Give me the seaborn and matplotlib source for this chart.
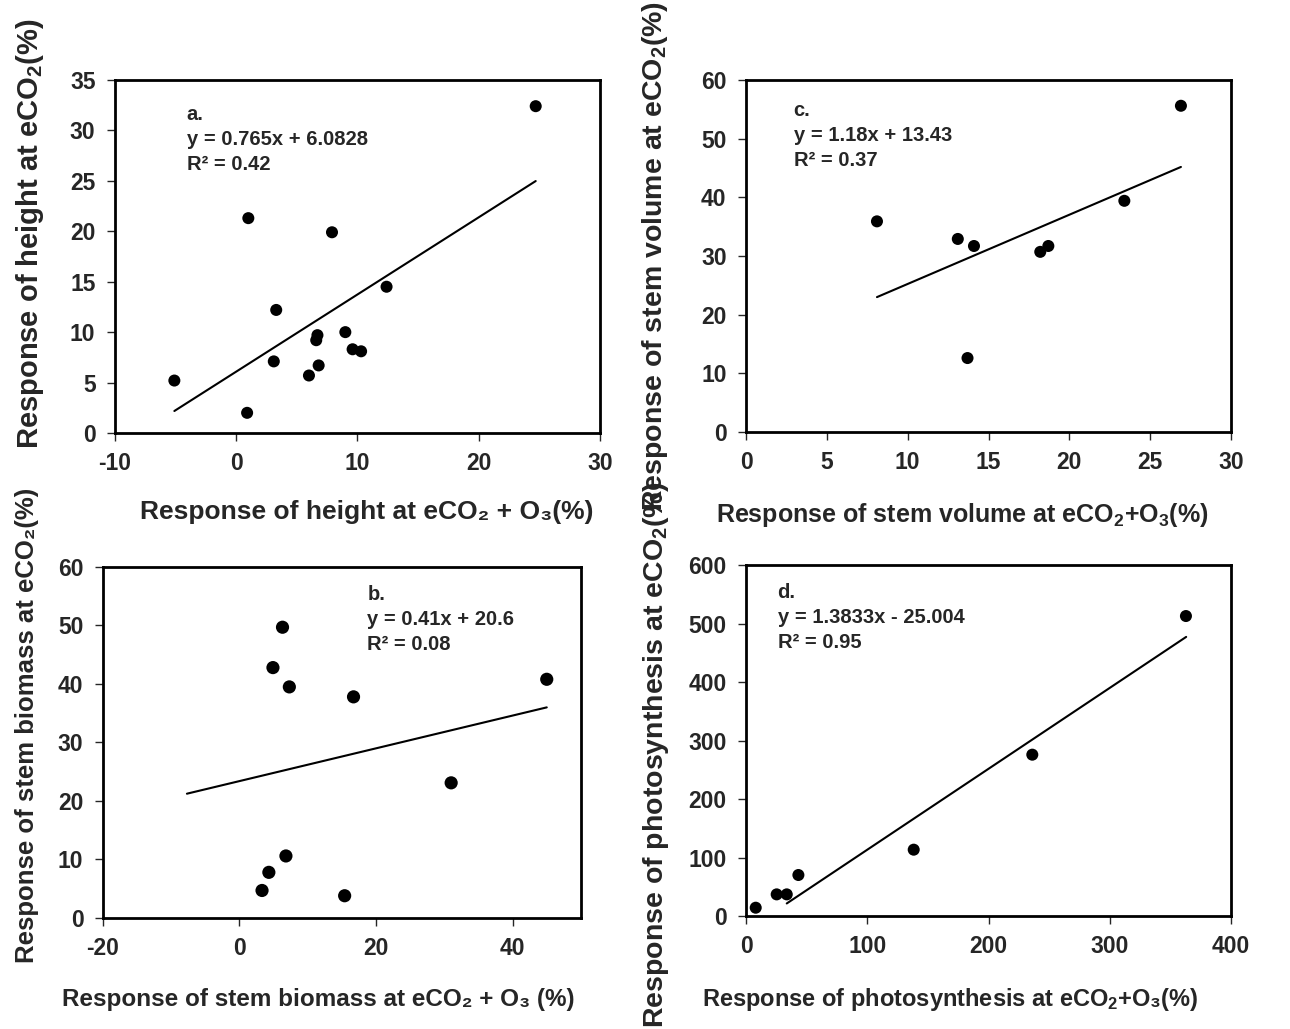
import numpy as np
import pandas as pd
import seaborn as sns
import matplotlib
matplotlib.use("Agg")
import matplotlib.pyplot as plt

# panel a: height
height_co2o3 = [24.7, -5.1, 0.9, 1.0, 7.9, 12.4, 3.3, 3.1, 6.7, 6.6, 6.8, 6.0, 9.0, 9.6, 10.3]
height_co2 = [32.4, 5.2, 2.0, 21.3, 19.9, 14.5, 12.2, 7.1, 9.7, 9.2, 6.7, 5.7, 10.0, 8.3, 8.1]

# panel c: stem volume
volume_co2o3 = [26.9, 8.1, 13.1, 14.1, 13.7, 18.2, 18.7, 23.4]
volume_co2 = [55.6, 35.9, 32.9, 31.7, 12.6, 30.7, 31.7, 39.4]

# panel b: stem biomass
biomass_co2o3 = [6.3, 4.9, 7.3, 16.7, 45.0, 31.0, 6.8, 4.3, 3.3, 15.4]
biomass_co2 = [49.7, 42.8, 39.5, 37.8, 40.8, 23.1, 10.6, 7.8, 4.7, 3.8]

# panel d: photosynthesis
photo_co2o3 = [362.8, 236.1, 138.3, 43.2, 25.3, 33.6, 8.0]
photo_co2 = [512.8, 275.8, 113.4, 70.1, 37.0, 37.0, 14.2]

# trend lines as drawn: slope, intercept, x start, x end
trend_a = (0.765, 6.0828, -5.1, 24.7)
trend_c = (1.18, 13.43, 8.1, 26.9)
trend_b = (0.28, 23.4, -7.7, 45.0)
trend_d = (1.3833, -25.004, 33.6, 363.0)

notes_a = "a.\ny = 0.765x + 6.0828\nR² = 0.42"
notes_c = "c.\ny = 1.18x + 13.43\nR² = 0.37"
notes_b = "b.\ny = 0.41x + 20.6\nR² = 0.08"
notes_d = "d.\ny = 1.3833x - 25.004\nR² = 0.95"

sns.set_style("ticks")
plt.rcParams['font.family'] = ['Liberation Sans', 'DejaVu Sans']
plt.rcParams['font.weight'] = 'bold'
plt.rcParams['axes.labelweight'] = 'bold'
plt.rcParams['mathtext.default'] = 'regular'
plt.rcParams['axes.unicode_minus'] = False

fig = plt.figure(figsize=(12.9, 10.29), dpi=100)

panels = [
    dict(rect=[0.0891, 0.5792, 0.3760, 0.3431], x=height_co2o3, y=height_co2, trend=trend_a,
         note=notes_a, npos=(0.148, 0.93), xlim=(-10, 30), xt=np.arange(-10, 31, 10),
         ylim=(0, 35), yt=np.arange(0, 36, 5),
         xlabel="Response of height at eCO₂ + O₃(%)",
         ylabel="Response of height at eCO$_2$(%)",
         xpos=(0.519, -0.224), ypos=(-0.175, 0.565), xfs=19, yfs=21, s=75),
    dict(rect=[0.5783, 0.5802, 0.3760, 0.3421], x=volume_co2o3, y=volume_co2, trend=trend_c,
         note=notes_c, npos=(0.098, 0.94), xlim=(0, 30), xt=np.arange(0, 31, 5),
         ylim=(0, 60), yt=np.arange(0, 61, 10),
         xlabel="Response of stem volume at eCO$_2$+O$_3$(%)",
         ylabel="Response of stem volume at eCO$_2$(%)",
         xpos=(0.446, -0.235), ypos=(-0.188, 0.5), xfs=18, yfs=20.5, s=75),
    dict(rect=[0.0798, 0.1079, 0.3705, 0.3411], x=biomass_co2o3, y=biomass_co2, trend=trend_b,
         note=notes_b, npos=(0.553, 0.95), xlim=(-20, 50), xt=np.arange(-20, 41, 20),
         ylim=(0, 60), yt=np.arange(0, 61, 10),
         xlabel="Response of stem biomass at eCO₂ + O₃ (%)",
         ylabel="Response of stem biomass at eCO₂(%)",
         xpos=(0.45, -0.232), ypos=(-0.158, 0.55), xfs=17.5, yfs=18.5, s=90),
    dict(rect=[0.5783, 0.1098, 0.3760, 0.3411], x=photo_co2o3, y=photo_co2, trend=trend_d,
         note=notes_d, npos=(0.065, 0.95), xlim=(0, 400), xt=np.arange(0, 401, 100),
         ylim=(0, 600), yt=np.arange(0, 601, 100),
         xlabel="Response of photosynthesis at eCO$_2$+O₃(%)",
         ylabel="Response of photosynthesis at eCO$_2$(%)",
         xpos=(0.42, -0.239), ypos=(-0.186, 0.46), xfs=17, yfs=20.5, s=75),
]

for p in panels:
    ax = fig.add_axes(p['rect'])
    sns.scatterplot(x=p['x'], y=p['y'], ax=ax, color='black', s=p['s'],
                    edgecolor='none', zorder=3)
    slope, icpt, x0, x1 = p['trend']
    lx = np.array([x0, x1])
    sns.lineplot(x=lx, y=slope * lx + icpt, ax=ax, color='black', lw=1.5)
    ax.text(p['npos'][0], p['npos'][1], p['note'], transform=ax.transAxes,
            ha='left', va='top', fontsize=14.5, fontweight='bold', linespacing=1.4)
    ax.set_xlim(p['xlim'])
    ax.set_ylim(p['ylim'])
    ax.set_xticks(p['xt'])
    ax.set_yticks(p['yt'])
    ax.tick_params(labelsize=16.5, length=6, width=1, direction='out', pad=8)
    for lab in ax.get_xticklabels() + ax.get_yticklabels():
        lab.set_fontweight('bold')
    for sp in ax.spines.values():
        sp.set_visible(True)
        sp.set_linewidth(2)
        sp.set_color('black')
    ax.set_xlabel(p['xlabel'], fontsize=p['xfs'], fontweight='bold')
    ax.set_ylabel(p['ylabel'], fontsize=p['yfs'], fontweight='bold')
    ax.xaxis.set_label_coords(*p['xpos'])
    ax.yaxis.set_label_coords(*p['ypos'])
    ax.xaxis.label.set_va('center')
    ax.yaxis.label.set_va('center')

fig.savefig('out.png', dpi=100)
